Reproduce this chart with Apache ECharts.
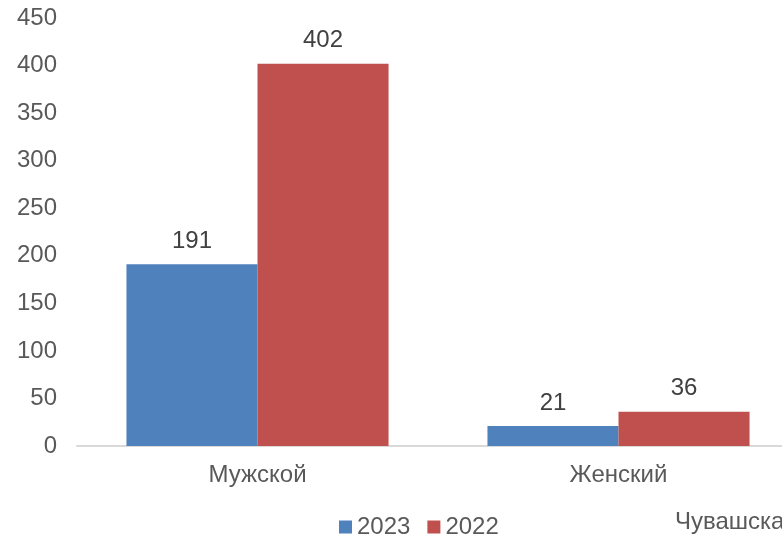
<!DOCTYPE html>
<html>
<head>
<meta charset="utf-8">
<script src="https://cdn.jsdelivr.net/npm/echarts@6/dist/echarts.min.js"></script>
<style>html,body{margin:0;padding:0;background:#fff;}#c{width:782px;height:540px;}</style>
</head>
<body>
<div id="c"></div>
<script>
var categories = ['Мужской', 'Женский'];
var values2023 = [191, 21];
var values2022 = [402, 36];
var yTicks = [0, 50, 100, 150, 200, 250, 300, 350, 400, 450];

var chart = echarts.init(document.getElementById('c'));
var font = 'Liberation Sans, Arial, sans-serif';
chart.setOption({
  animation: false,
  textStyle: {fontFamily: font},
  grid: {left: 77, width: 722, top: 18, bottom: 94, containLabel: false, outerBoundsMode: 'none'},
  legend: {
    data: ['2023', '2022'],
    left: 339, top: 515, padding: 0,
    itemWidth: 13, itemHeight: 13, itemGap: 17,
    icon: 'rect',
    textStyle: {fontSize: 24, color: '#595959', fontFamily: font}
  },
  xAxis: {
    type: 'category',
    data: categories,
    axisLine: {lineStyle: {color: '#D9D9D9', width: 2}},
    axisTick: {show: false},
    axisLabel: {fontSize: 24, color: '#595959', margin: 17, fontFamily: font}
  },
  yAxis: {
    type: 'value',
    min: 0, max: 450, interval: 50,
    axisLine: {show: false},
    axisTick: {show: false},
    splitLine: {show: false},
    axisLabel: {fontSize: 24, color: '#595959', margin: 20, fontFamily: font}
  },
  series: [
    {
      name: '2023', type: 'bar', data: values2023,
      barGap: '0%', barCategoryGap: '27.4%',
      itemStyle: {color: '#4F81BD'},
      label: {show: true, position: 'top', distance: 11, fontSize: 24, color: '#404040', fontFamily: font}
    },
    {
      name: '2022', type: 'bar', data: values2022,
      barGap: '0%', barCategoryGap: '27.4%',
      itemStyle: {color: '#C0504D'},
      label: {show: true, position: 'top', distance: 11, fontSize: 24, color: '#404040', fontFamily: font}
    }
  ],
  graphic: [{
    type: 'text', left: 675, top: 510,
    style: {text: 'Чувашска', fontSize: 24, fill: '#595959', fontFamily: font}
  }]
});
</script>
</body>
</html>
